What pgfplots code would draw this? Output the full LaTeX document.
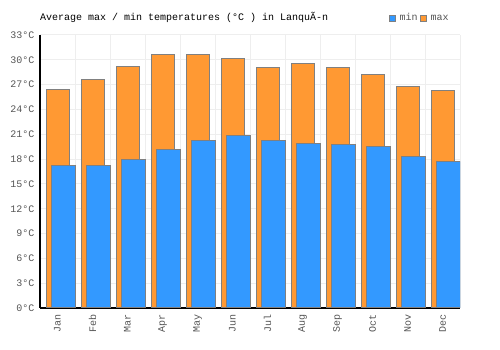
\documentclass[border=0pt]{standalone}
\usepackage{fontspec}
\setmainfont{Liberation Mono}
\usepackage{pgfplots}
\pgfplotsset{compat=1.18}
\definecolor{cmin}{HTML}{3399FF}
\definecolor{cmax}{HTML}{FF9933}
\definecolor{gridc}{HTML}{EEEEEE}
\definecolor{txt}{HTML}{555555}
\definecolor{bord}{HTML}{808080}
\begin{document}
\begin{tikzpicture}[x=1pt,y=1pt]
\path (0,0) rectangle (500,350);
\begin{axis}[
  at={(40pt,42pt)}, anchor=south west,
  width=420pt, height=273pt, scale only axis,
  xmin=-0.5, xmax=11.5, ymin=0, ymax=33,
  enlargelimits=false,
  ytick={0,3,...,33},
  xtick={0,...,11},
  xticklabels={Jan,Feb,Mar,Apr,May,Jun,Jul,Aug,Sep,Oct,Nov,Dec},
  minor xtick={0.5,1.5,...,11.5},
  xminorgrids, ymajorgrids,
  major grid style={gridc, line width=1pt},
  minor grid style={gridc, line width=1pt},
  axis x line*=bottom, axis y line*=left,
  axis line style={black, line width=1.2pt, -},
  major tick length=0pt, minor tick length=0pt,
  tick label style={txt, font=\fontsize{10}{11}\selectfont},
  x tick label style={rotate=90, anchor=east},
  xticklabel shift=3pt, yticklabel shift=2pt,
  /pgf/number format/assume math mode=true,
  yticklabel={\pgfmathprintnumber{\tick}°C},
  ybar,
  legend columns=2,
  legend style={at={(axis description cs:0.985,1.062)}, anchor=east, draw=none, fill=none,
    font=\fontsize{10}{11}\selectfont\color{txt},
    /tikz/every odd column/.append style={column sep=2pt}},
]
\addplot[ybar, bar width=22.5pt, bar shift=0.5pt, fill=cmax, draw=bord, line width=1pt, forget plot]
 coordinates {(0,26.4) (1,27.6) (2,29.2) (3,30.7) (4,30.6) (5,30.1) (6,29.1) (7,29.6) (8,29.1) (9,28.2) (10,26.8) (11,26.3)};
\addplot[ybar, bar width=23.7pt, bar shift=5.8pt, fill=cmin, draw=bord, line width=1pt, forget plot]
 coordinates {(0,17.25) (1,17.25) (2,17.9) (3,19.2) (4,20.2) (5,20.8) (6,20.3) (7,19.9) (8,19.8) (9,19.55) (10,18.3) (11,17.7)};
\addlegendimage{legend image code/.code={\draw[fill=cmin,draw=bord,line width=0.8pt] (0pt,-3pt) rectangle (6pt,3pt);}}
\addlegendentry{min}
\addlegendimage{legend image code/.code={\draw[fill=cmax,draw=bord,line width=0.8pt] (0pt,-3pt) rectangle (6pt,3pt);}}
\addlegendentry{max}
\end{axis}
\node[anchor=base west, inner sep=0pt, font=\fontsize{10}{11}\selectfont] at (40,329) {Average max / min temperatures (°C ) in LanquÃ-n};
\end{tikzpicture}
\end{document}
